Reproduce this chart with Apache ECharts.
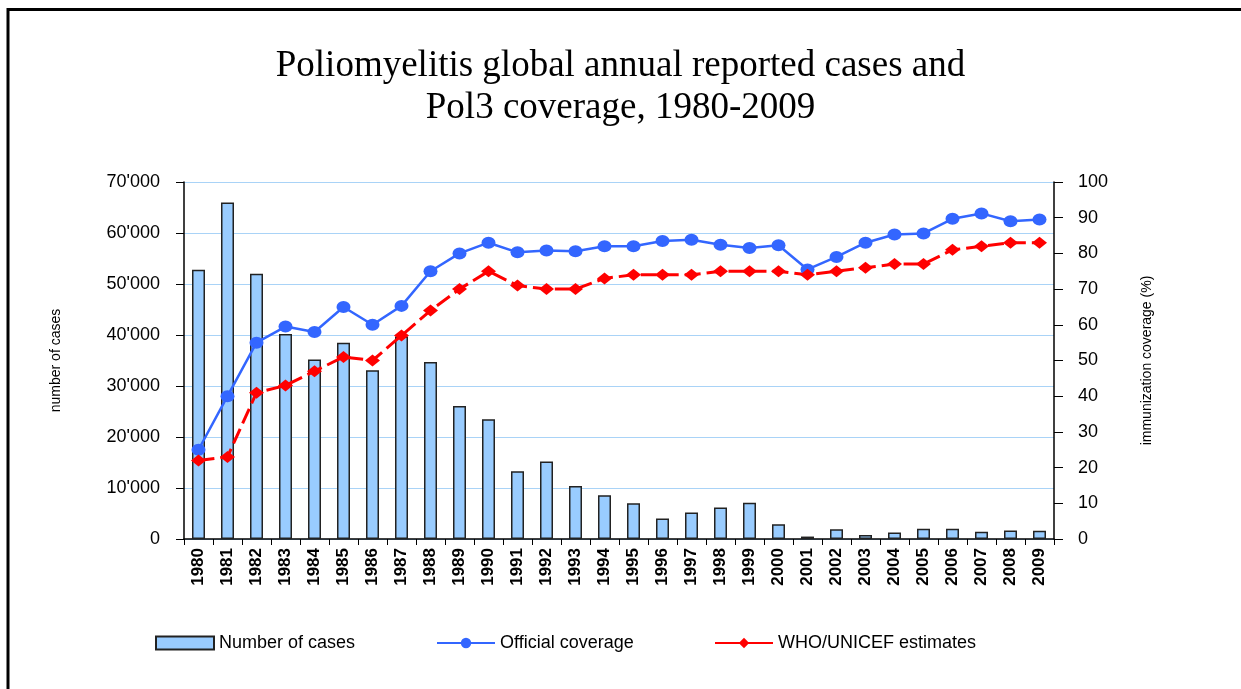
<!DOCTYPE html>
<html>
<head>
<meta charset="utf-8">
<title>Poliomyelitis cases and Pol3 coverage</title>
<script src="https://cdn.jsdelivr.net/npm/echarts@6/dist/echarts.min.js"></script>
<style>
  html, body { margin: 0; padding: 0; background: #fff; }
  #chart { width: 1241px; height: 689px; }
</style>
</head>
<body>
<div id="chart"></div>
<script>
const years = ['1980', '1981', '1982', '1983', '1984', '1985', '1986', '1987', '1988', '1989',
  '1990', '1991', '1992', '1993', '1994', '1995', '1996', '1997', '1998', '1999',
  '2000', '2001', '2002', '2003', '2004', '2005', '2006', '2007', '2008', '2009'];

// reported polio cases
const cases = [52800, 66000, 52000, 40200, 35200, 38500, 33100, 39700, 34700, 26100,
  23500, 13300, 15200, 10400, 8600, 7000, 4000, 5200, 6200, 7100,
  2900, 480, 1900, 780, 1260, 2030, 2000, 1400, 1650, 1600];

// Pol3 coverage (%)
const officialCoverage = [25, 40, 55, 59.5, 58, 65, 60, 65.3, 75, 80,
  83, 80.3, 80.8, 80.6, 82, 82, 83.5, 83.8, 82.4, 81.5,
  82.3, 75.5, 79, 83, 85.3, 85.6, 89.7, 91.2, 89, 89.5];
const whoUnicef = [22, 23, 41, 43, 47, 51, 50, 57, 64, 70,
  75, 71, 70, 70, 73, 74, 74, 74, 75, 75,
  75, 74, 75, 76, 77, 77, 81, 82, 83, 83];

const seriesNames = ['Number of cases', 'Official coverage', 'WHO/UNICEF estimates'];

const chart = echarts.init(document.getElementById('chart'));

const fmtThousands = v => String(v).replace(/\B(?=(\d{3})+(?!\d))/g, "'");

// one legend per key, so the keys keep the spread of the original
const legendBase = {
  bottom: 37,
  padding: 0,
  itemWidth: 58,
  itemHeight: 13,
  textStyle: { fontSize: 18, color: '#000' }
};

const option = {
  animation: false,
  backgroundColor: '#fff',
  textStyle: { fontFamily: 'Liberation Sans, Arial, sans-serif' },
  graphic: [{
    type: 'polyline',
    shape: { points: [[8, 700], [8, 9.5], [1250, 9.5]] },
    style: { stroke: '#000', lineWidth: 3, fill: null },
    silent: true
  }],
  title: {
    text: 'Poliomyelitis global annual reported cases and\nPol3 coverage, 1980-2009',
    left: 'center',
    top: 40,
    textStyle: {
      fontFamily: 'Liberation Serif, Times New Roman, serif',
      fontWeight: 'normal',
      fontSize: 37,
      lineHeight: 42,
      color: '#000'
    }
  },
  legend: [
    Object.assign({}, legendBase, { left: 155, data: [{ name: seriesNames[0], icon: 'rect' }] }),
    Object.assign({}, legendBase, { left: 436, data: [{ name: seriesNames[1] }] }),
    Object.assign({}, legendBase, { left: 714, data: [{ name: seriesNames[2], lineStyle: { type: 'solid' } }] })
  ],
  grid: { left: 184, right: 187, top: 182, bottom: 150 },
  xAxis: {
    type: 'category',
    data: years,
    axisLine: { lineStyle: { color: '#000', width: 1.5 } },
    axisTick: { show: true, length: 6, lineStyle: { color: '#000' } },
    axisLabel: {
      rotate: 90,
      margin: 9,
      fontSize: 17,
      fontWeight: 'bold',
      color: '#000'
    }
  },
  yAxis: [{
    type: 'value',
    min: 0,
    max: 70000,
    interval: 10000,
    name: 'number of cases',
    nameLocation: 'middle',
    nameRotate: 90,
    nameGap: 121,
    nameTextStyle: { fontSize: 14, color: '#000' },
    axisLine: { show: true, lineStyle: { color: '#000', width: 1.5 } },
    axisTick: { show: true, length: 8, lineStyle: { color: '#000' } },
    axisLabel: { margin: 24, fontSize: 18, color: '#000', formatter: fmtThousands },
    splitLine: { lineStyle: { color: '#a9d3f7', width: 1.2 } }
  }, {
    type: 'value',
    min: 0,
    max: 100,
    interval: 10,
    position: 'right',
    name: 'immunization coverage (%)',
    nameLocation: 'middle',
    nameRotate: 90,
    nameGap: 86,
    nameTextStyle: { fontSize: 14, color: '#000' },
    axisLine: { show: true, lineStyle: { color: '#000', width: 1.5 } },
    axisTick: { show: true, length: 9, lineStyle: { color: '#000' } },
    axisLabel: { margin: 24, fontSize: 18, color: '#000' },
    splitLine: { show: false }
  }],
  series: [{
    name: seriesNames[0],
    type: 'bar',
    data: cases,
    barWidth: 13,
    itemStyle: { color: '#99ccff', borderColor: '#222', borderWidth: 1.5 }
  }, {
    name: seriesNames[1],
    type: 'line',
    yAxisIndex: 1,
    data: officialCoverage,
    symbol: 'circle',
    symbolSize: [14, 12],
    lineStyle: { color: '#3366ff', width: 2.5 },
    itemStyle: { color: '#3366ff' }
  }, {
    name: seriesNames[2],
    type: 'line',
    yAxisIndex: 1,
    data: whoUnicef,
    symbol: 'diamond',
    symbolSize: [15, 12],
    lineStyle: { color: '#ff0000', width: 3, type: [16, 6] },
    itemStyle: { color: '#ff0000' }
  }]
};

chart.setOption(option);
</script>
</body>
</html>
